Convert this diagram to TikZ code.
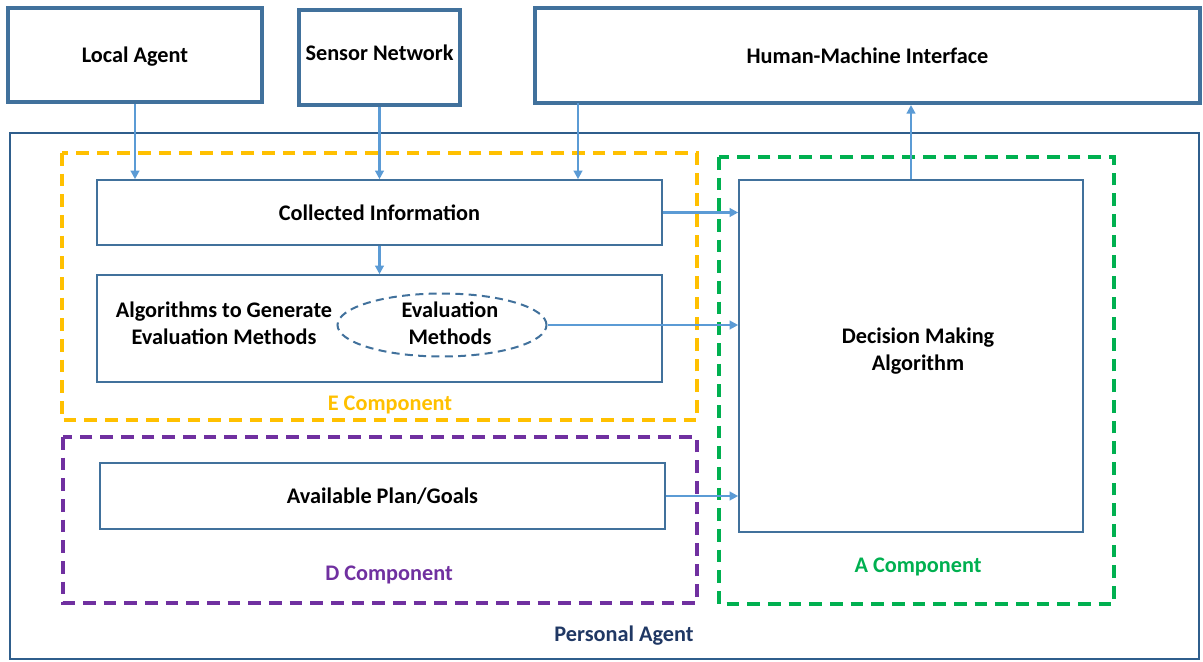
\documentclass[tikz,border=0pt]{standalone}
\usepackage{fontspec}
\setmainfont{Carlito}
\usetikzlibrary{arrows.meta,shapes.geometric}
\definecolor{boxline}{HTML}{41719C}
\definecolor{outerline}{HTML}{2F5E8C}
\definecolor{navytext}{HTML}{203864}
\definecolor{flow}{HTML}{5B9BD5}
\definecolor{ecolor}{HTML}{FFC000}
\definecolor{dcolor}{HTML}{7030A0}
\definecolor{acolor}{HTML}{00B050}
\tikzset{
  every node/.style={font=\fontsize{16.7}{20.5}\selectfont\bfseries},
  topbox/.style={draw=boxline, line width=3pt, rectangle, inner sep=0pt},
  innerbox/.style={draw=boxline, line width=1.2pt, rectangle, inner sep=0pt},
  compframe/.style={dash pattern=on 9.5pt off 6pt, line width=2.4pt},
  flowarrow/.style={draw=flow, line width=2pt, -{Triangle[length=6.5pt,width=6.5pt]}},
}
\begin{document}
\begin{tikzpicture}[x=0.75pt,y=-0.75pt]
\useasboundingbox (0,0) rectangle (1203,661);

% external sources and interface
\node[topbox, minimum width=190.5pt, minimum height=70.5pt] (la) at (135,55) {};
\node (latext) at (135,56.5) {Local Agent};
\node[topbox, minimum width=120.75pt, minimum height=71.25pt] (sn) at (379.5,57.5) {};
\node (sntext) at (379.5,53) {Sensor Network};
\node[topbox, minimum width=498.75pt, minimum height=71.25pt] (hmi) at (867.5,55.5) {Human-Machine Interface};

% personal agent frame
\draw[outerline, line width=1.9pt] (10,133) rectangle (1199,659);
\node[text=navytext] (palabel) at (624,636) {Personal Agent};

% E component
\draw[ecolor, compframe] (62,153) rectangle (697,420);
\node[text=ecolor] (elabel) at (390,405) {E Component};
\node[innerbox, minimum width=423.75pt, minimum height=48.75pt] (ci) at (379.5,212.5) {Collected Information};
\node[innerbox, minimum width=423.75pt, minimum height=80.25pt] (alg) at (379.5,328.5) {};
\node[align=center] (algtext) at (224,323) {Algorithms to Generate\\Evaluation Methods};
\node[draw=boxline, line width=1.5pt, dash pattern=on 6pt off 4pt, ellipse, inner sep=0pt,
      minimum width=156.75pt, minimum height=47.25pt] (ev) at (442,325) {};
\node[align=center] (evtext) at (450,323) {Evaluation\\Methods};

% D component
\draw[dcolor, compframe] (63,437) rectangle (697,603);
\node[text=dcolor] (dlabel) at (389,575) {D Component};
\node[innerbox, minimum width=423.75pt, minimum height=49.5pt] (apg) at (382.5,496) {Available Plan/Goals};

% A component
\draw[acolor, compframe] (719,157) rectangle (1114,604);
\node[text=acolor] (alabel) at (918,567) {A Component};
\node[innerbox, minimum width=258pt, minimum height=264pt] (dma) at (911,356) {};
\node[align=center] (dmatext) at (918,351) {Decision Making\\Algorithm};

% information flow
\coordinate (hmitap) at (578,103);
\draw[flowarrow] (la.south) -- (la.south |- ci.north);
\draw[flowarrow] (sn.south) -- (sn.south |- ci.north);
\draw[flowarrow] (hmitap) -- (hmitap |- ci.north);
\draw[flowarrow] (ci.south) -- (ci.south |- alg.north);
\draw[flowarrow] (ci.east) -- (ci.east -| dma.west);
\draw[flowarrow] (ev.east) -- (ev.east -| dma.west);
\draw[flowarrow] (apg.east) -- (apg.east -| dma.west);
\draw[flowarrow] (dma.north) -- (dma.north |- hmi.south);
\end{tikzpicture}
\end{document}
